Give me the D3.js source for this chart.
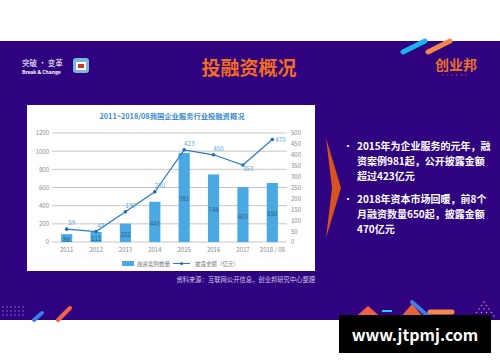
<!DOCTYPE html>
<html>
<head>
<meta charset="utf-8">
<script src="https://d3js.org/d3.v7.min.js"></script>
<style>
  body { margin: 0; background: #fff; }
  text { font-family: "Noto Sans CJK SC", "Noto Sans", sans-serif; }
</style>
</head>
<body>
<script>
// chart data
var years = ["2011", "2012", "2013", "2014", "2015", "2016", "2017", "2018 / 08"];
var dealCount = [86, 111, 202, 443, 981, 744, 603, 650];
var amount = [59, 48, 139, 230, 423, 400, 353, 470];
var leftTicks = [0, 200, 400, 600, 800, 1000, 1200];
var rightTicks = [0, 50, 100, 150, 200, 250, 300, 350, 400, 450, 500];
var bullets = [
  ["2015年为企业服务的元年，融", "资案例981起，公开披露金额", "超过423亿元"],
  ["2018年资本市场回暖，前8个", "月融资数量650起，披露金额", "470亿元"]
];

var W = 500, H = 362;
var svg = d3.select("body").append("svg").attr("width", W).attr("height", H);

// purple slide background
svg.append("rect").attr("x", 0).attr("y", 41).attr("width", W).attr("height", 279).attr("fill", "#2f0280");

// top right stripes
svg.append("line").attr("x1", 403).attr("y1", 52).attr("x2", 425).attr("y2", 41)
  .attr("stroke", "#1ab2f0").attr("stroke-width", 5).attr("stroke-linecap", "round");
svg.append("line").attr("x1", 428).attr("y1", 52).attr("x2", 450).attr("y2", 41)
  .attr("stroke", "#f5874a").attr("stroke-width", 5).attr("stroke-linecap", "round");

// header left logo
svg.append("text").attr("x", 22).attr("y", 66).attr("fill", "#fff").attr("font-size", 7.5).text("突破 • 变革");
svg.append("text").attr("x", 22).attr("y", 74).attr("fill", "#fff").attr("font-size", 5).attr("font-weight", "bold").text("Break & Change");
svg.append("rect").attr("x", 73).attr("y", 58).attr("width", 16).attr("height", 15).attr("rx", 3).attr("fill", "#7fb6d8");
svg.append("rect").attr("x", 76).attr("y", 62).attr("width", 10).attr("height", 8).attr("fill", "#fff");
svg.append("rect").attr("x", 78).attr("y", 64).attr("width", 6).attr("height", 4).attr("fill", "#c0392b");

// title
svg.append("text").attr("x", 249).attr("y", 75).attr("text-anchor", "middle").attr("fill", "#f36d1e")
  .attr("font-size", 19).attr("font-weight", "bold").text("投融资概况");

// right logo
svg.append("text").attr("x", 456).attr("y", 70).attr("text-anchor", "middle").attr("fill", "#e8702a")
  .attr("font-size", 14).attr("font-weight", "bold").text("创业邦");
svg.append("text").attr("x", 456).attr("y", 76).attr("text-anchor", "middle").attr("fill", "#e8702a")
  .attr("font-size", 2.5).attr("letter-spacing", 3).text("CYZONE");

// chart panel
svg.append("rect").attr("x", 27).attr("y", 105).attr("width", 288).attr("height", 166).attr("fill", "#fff");
svg.append("text").attr("x", 172).attr("y", 119).attr("text-anchor", "middle").attr("fill", "#3a8cd0")
  .attr("font-size", 7.3).attr("font-weight", "bold").text("2011~2018/08我国企业服务行业投融资概况");

var x = d3.scaleBand().domain(years).range([52, 287]).paddingInner(0.62).paddingOuter(0.31);
var yL = d3.scaleLinear().domain([0, 1200]).range([242, 133]);
var yR = d3.scaleLinear().domain([0, 500]).range([242, 133]);

var g = svg.append("g");

// gridlines
g.selectAll("line.grid").data(leftTicks).enter().append("line")
  .attr("x1", 52).attr("x2", 287)
  .attr("y1", function (d) { return yL(d); }).attr("y2", function (d) { return yL(d); })
  .attr("stroke", "#b8b8b8").attr("stroke-width", 0.8);

var axL = g.append("g").attr("transform", "translate(52,0)")
  .call(d3.axisLeft(yL).tickValues(leftTicks).tickFormat(d3.format("d")).tickSize(0).tickPadding(3));
var axR = g.append("g").attr("transform", "translate(287,0)")
  .call(d3.axisRight(yR).tickValues(rightTicks).tickFormat(d3.format("d")).tickSize(0).tickPadding(4));
var axB = g.append("g").attr("transform", "translate(0,242)")
  .call(d3.axisBottom(x).tickSize(0).tickPadding(6));
[axL, axR, axB].forEach(function (a) {
  a.select(".domain").remove();
  a.selectAll("text").attr("fill", "#8a8a8a").attr("font-size", 6)
    .attr("font-family", "'Liberation Sans', Arial, sans-serif");
});

// bars
g.selectAll("rect.bar").data(dealCount).enter().append("rect")
  .attr("x", function (d, i) { return x(years[i]); })
  .attr("y", function (d) { return yL(d); })
  .attr("width", x.bandwidth())
  .attr("height", function (d) { return 242 - yL(d); })
  .attr("fill", "#4aa9e2");
g.selectAll("text.barlab").data(dealCount).enter().append("text")
  .attr("x", function (d, i) { return x(years[i]) + x.bandwidth() / 2; })
  .attr("y", function (d) { return (yL(d) + 242) / 2 + 4; })
  .attr("text-anchor", "middle").attr("fill", "#2c5d86").attr("font-size", 6)
  .attr("font-family", "'Liberation Sans', Arial, sans-serif")
  .text(function (d) { return d; });

// line
var cx = function (d, i) { return x(years[i]) + x.bandwidth() / 2; };
var line = d3.line().x(cx).y(function (d) { return yR(d); });
g.append("path").datum(amount).attr("d", line).attr("fill", "none")
  .attr("stroke", "#2b7cc4").attr("stroke-width", 1.2);
g.selectAll("circle.pt").data(amount).enter().append("circle")
  .attr("cx", cx).attr("cy", function (d) { return yR(d); }).attr("r", 1.8).attr("fill", "#1f6fb8");
g.selectAll("text.ptlab").data(amount).enter().append("text")
  .attr("x", function (d, i) { return cx(d, i) + (i === 7 ? 3 : 5); })
  .attr("y", function (d, i) { return yR(d) + (i === 6 ? 6 : (i === 7 ? 2 : -4)); })
  .attr("text-anchor", function (d, i) { return i === 7 ? "start" : "middle"; })
  .attr("fill", "#5aa8de").attr("font-size", 6.3)
  .attr("font-family", "'Liberation Sans', Arial, sans-serif")
  .text(function (d) { return d; });

// legend
g.append("rect").attr("x", 122).attr("y", 261).attr("width", 12).attr("height", 5).attr("fill", "#4aa9e2");
g.append("text").attr("x", 137).attr("y", 266).attr("fill", "#777").attr("font-size", 5.5).text("融资案例数量");
g.append("line").attr("x1", 173).attr("x2", 190).attr("y1", 263.5).attr("y2", 263.5).attr("stroke", "#2b7cc4").attr("stroke-width", 1);
g.append("circle").attr("cx", 181.5).attr("cy", 263.5).attr("r", 1.5).attr("fill", "#1f6fb8");
g.append("text").attr("x", 195).attr("y", 266).attr("fill", "#777").attr("font-size", 5.5).text("披露金额（亿元）");

// source
svg.append("text").attr("x", 315).attr("y", 282).attr("text-anchor", "end").attr("fill", "#cfc8e6")
  .attr("font-size", 6.3).text("资料来源：互联网公开信息，创业邦研究中心整理");

// chevron
svg.append("polygon").attr("points", "326,138 341,188 326,238 332,188").attr("fill", "#d9531f");

// bullets
var by = [150, 203];
bullets.forEach(function (lines, k) {
  svg.append("text").attr("x", 343).attr("y", by[k]).attr("fill", "#fff").attr("font-size", 10).text("•");
  lines.forEach(function (t, j) {
    svg.append("text").attr("x", 357).attr("y", by[k] + j * 15).attr("fill", "#fff")
      .attr("font-size", 10).attr("font-weight", "bold").text(t);
  });
});

// bottom decorations
for (var r = 0; r < 3; r++) {
  for (var c = 0; c < 6; c++) {
    svg.append("circle").attr("cx", 3 + c * 4).attr("cy", 307 + r * 4).attr("r", 0.8).attr("fill", "#8a70c8");
  }
}
svg.append("line").attr("x1", 34).attr("y1", 320).attr("x2", 42).attr("y2", 313)
  .attr("stroke", "#3d7fe8").attr("stroke-width", 4).attr("stroke-linecap", "round");
svg.append("line").attr("x1", 58).attr("y1", 320).attr("x2", 70).attr("y2", 308)
  .attr("stroke", "#f0644a").attr("stroke-width", 4).attr("stroke-linecap", "round");
svg.append("polygon").attr("points", "352,320 368,306 384,320").attr("fill", "#f06040");
svg.append("rect").attr("x", 382).attr("y", 310).attr("width", 10).attr("height", 2).attr("fill", "#2ec4f0");
svg.append("polygon").attr("points", "398,320 412,304 426,320").attr("fill", "#e8603a");
svg.append("line").attr("x1", 412).attr("y1", 302).attr("x2", 428).attr("y2", 316)
  .attr("stroke", "#3d7fe8").attr("stroke-width", 4).attr("stroke-linecap", "round");
svg.append("line").attr("x1", 430).attr("y1", 312).attr("x2", 452).attr("y2", 312)
  .attr("stroke", "#f5874a").attr("stroke-width", 5).attr("stroke-linecap", "round");
for (var r2 = 0; r2 < 5; r2++) {
  for (var c2 = 0; c2 <= r2; c2++) {
    svg.append("circle").attr("cx", 484 - r2 * 2.5 + c2 * 5).attr("cy", 302 + r2 * 3.5).attr("r", 0.8).attr("fill", "#d08ac0");
  }
}

// watermark
svg.append("rect").attr("x", 339).attr("y", 315).attr("width", 152).attr("height", 38).attr("fill", "#000");
svg.append("text").attr("x", 415).attr("y", 341).attr("text-anchor", "middle").attr("fill", "#fff")
  .attr("font-size", 16).attr("font-weight", "bold").attr("font-family", "'DejaVu Sans', sans-serif").text("www.jtpmj.com");
</script>
</body>
</html>
